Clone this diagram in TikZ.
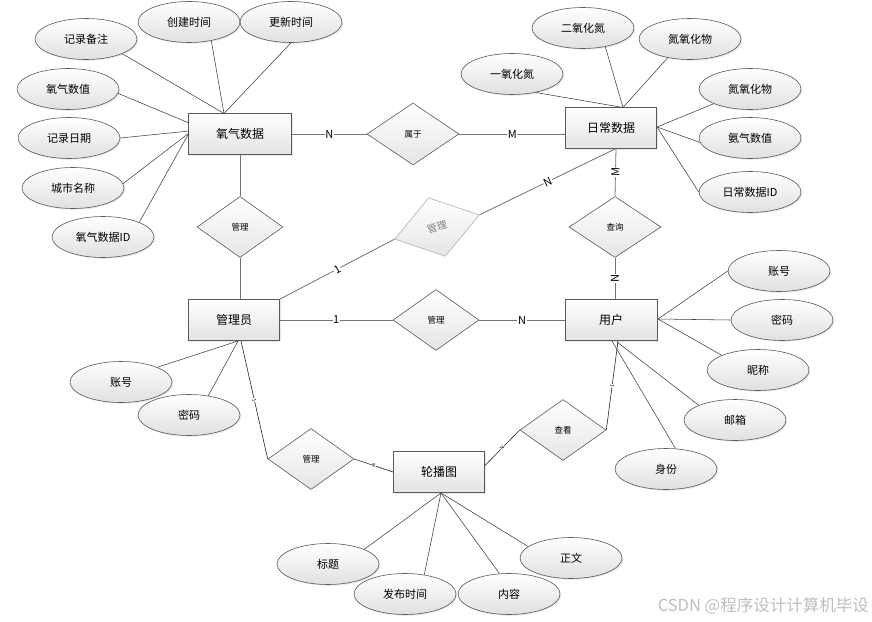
\documentclass[tikz,border=0pt]{standalone}
\usepackage{fontspec}
\setmainfont{Noto Sans CJK SC}
\usetikzlibrary{shapes.geometric,shadows}
\begin{document}
\begin{tikzpicture}[x=1pt,y=-1pt,
  shd/.style={drop shadow={shadow xshift=1.2pt,shadow yshift=-1.2pt,opacity=0.18}},
  ent/.style={draw=black!65, line width=0.7pt, top color=white, bottom color=black!11, minimum width=91pt, minimum height=41pt, inner sep=0pt, font=\fontsize{12}{14}\selectfont, shd},
  attr/.style={ellipse, draw=black!65, line width=0.6pt, top color=white, bottom color=black!12, minimum width=102pt, minimum height=41pt, inner sep=0pt, font=\fontsize{11}{13}\selectfont, shd},
  rel/.style={diamond, draw=black!65, line width=0.6pt, top color=white, bottom color=black!10, minimum width=86pt, minimum height=61pt, inner sep=0pt, font=\fontsize{8.5}{10}\selectfont},
  ln/.style={draw=black!75, line width=0.55pt},
  rl/.style={draw=black!55, line width=0.8pt},
  bl/.style={draw=black!85, line width=0.6pt},
  lab/.style={fill=white, inner sep=0.6pt, font=\fontsize{11}{12}\selectfont},
  smlab/.style={fill=white, inner sep=0.3pt, font=\fontsize{5}{6}\selectfont}
]
\useasboundingbox (0,0) rectangle (872,621);
\fill[white] (0,0) rectangle (872,621);

% entities
\node[ent, minimum width=103pt] (oxy) at (240,134) {氧气数据};
\node[ent] (dd) at (611,128) {日常数据};
\node[ent] (adm) at (234,320) {管理员};
\node[ent, minimum width=92pt] (usr) at (611,320) {用户};
\node[ent] (car) at (439,472) {轮播图};

% relationships
\node[rel, minimum width=92pt, minimum height=62pt] (shu) at (413,134) {属于};
\node[rel] (m1) at (240,227) {管理};
\node[rel, draw=black!30, text=black!50, rotate=16, minimum width=88pt, font=\fontsize{10}{11}\selectfont] (gm) at (437,227) {管理};
\node[rel, minimum width=92pt] (cx) at (615,227) {查询};
\node[rel] (m2) at (436,320) {管理};
\node[rel] (m3) at (311,459) {管理};
\node[rel] (ck) at (563,430) {查看};

% attributes of 氧气数据
\node[attr] (a1) at (86,39) {记录备注};
\node[attr] (a2) at (189,22) {创建时间};
\node[attr] (a3) at (291,22) {更新时间};
\node[attr] (a4) at (68,89) {氧气数值};
\node[attr] (a5) at (69,138) {记录日期};
\node[attr] (a6) at (73,188) {城市名称};
\node[attr] (a7) at (103,237) {氧气数据ID};

% attributes of 日常数据
\node[attr] (b1) at (512,74) {一氧化氮};
\node[attr] (b2) at (583,28) {二氧化氮};
\node[attr] (b3) at (690,39) {氮氧化物};
\node[attr] (b4) at (750,89) {氮氧化物};
\node[attr] (b5) at (750,138) {氨气数值};
\node[attr] (b6) at (750,192) {日常数据ID};

% attributes of 用户
\node[attr] (c1) at (779,271) {账号};
\node[attr] (c2) at (782,320) {密码};
\node[attr] (c3) at (758,370) {昵称};
\node[attr] (c4) at (735,420) {邮箱};
\node[attr] (c5) at (666,469) {身份};

% attributes of 管理员
\node[attr] (e1) at (121,382) {账号};
\node[attr] (e2) at (189,415) {密码};

% attributes of 轮播图
\node[attr] (d1) at (328,564) {标题};
\node[attr] (d2) at (405,594) {发布时间};
\node[attr] (d3) at (509,594) {内容};
\node[attr] (d4) at (571,558) {正文};

% connection points
\coordinate (oxt) at (224,113.5);
\coordinate (oxl1) at (189,123);
\coordinate (oxl2) at (189,131);
\coordinate (oxl3) at (189,133);
\coordinate (ddt) at (623,107.5);
\coordinate (ddr) at (657,127);
\coordinate (ddb) at (616,148.5);
\coordinate (ur) at (658,319);
\coordinate (ub1) at (617,342);
\coordinate (ub2) at (612,341);
\coordinate (usb) at (618,341);
\coordinate (ab) at (238,341);
\coordinate (admb) at (241,341);
\coordinate (ctb) at (441,493);
\coordinate (carr) at (484.5,466);

% attribute lines
\draw[ln] (a1.south east) -- (oxt);
\draw[ln] (a2.-40) -- (oxt);
\draw[ln] (a3.south) -- (oxt);
\draw[ln] (a4.-5) -- (oxl1);
\draw[ln] (a5.east) -- (oxl2);
\draw[ln] (a6.5) -- (oxl3);
\draw[ln] (a7.north east) -- (oxl3);

\draw[ln] (b1.-38) -- (ddt);
\draw[ln] (b2.-40) -- (ddt);
\draw[ln] (b3.220) -- (ddt);
\draw[ln] (ddr) -- (b4.south west);
\draw[ln] (ddr) -- (b5.185);
\draw[ln] (ddr) -- (b6.west);

\draw[ln] (ur) -- (c1.west);
\draw[ln] (ur) -- (c2.west);
\draw[ln] (ur) -- (c3.north west);
\draw[ln] (ub1) -- (c4.north west);
\draw[ln] (ub2) -- (c5.65);

\draw[ln] (e1.north east) -- (ab);
\draw[ln] (e2.45) -- (ab);

\draw[ln] (d1.north east) -- (ctb);
\draw[ln] (d2.45) -- (ctb);
\draw[ln] (d3.115) -- (ctb);
\draw[ln] (d4.165) -- (ctb);

% relationship lines
\draw[rl] (oxy.east) -- node[lab]{N} (shu.west);
\draw[rl] (shu.east) -- node[lab]{M} (shu.east -| dd.west);
\draw[rl] (oxy.south) -- (m1.north);
\draw[rl] (m1.south) -- (m1.south |- adm.north);
\draw[rl] (adm.north east) -- node[lab, sloped]{1} (gm.west);
\draw[rl] (gm.east) -- node[lab, sloped]{N} (ddb);
\draw[rl] (cx.north) -- node[lab, sloped]{M} (ddb);
\draw[rl] (cx.south) -- node[lab, sloped]{N} (cx.south |- usr.north);
\draw[rl] (adm.east) -- node[lab]{1} (m2.west);
\draw[rl] (m2.east) -- node[lab]{N} (usr.west);

\draw[bl] (admb) -- node[smlab, sloped]{1} (m3.west);
\draw[bl] (m3.east) -- node[smlab, sloped]{N} (car.west);
\draw[bl] (carr) -- node[smlab, sloped]{N} (ck.west);
\draw[bl] (ck.east) -- node[smlab, sloped]{1} (usb);

% watermark
\node[text=black!25, font=\fontsize{16.5}{18}\selectfont, anchor=east, inner sep=0pt] (wm) at (869,606) {CSDN @程序设计计算机毕设};
\end{tikzpicture}
\end{document}
